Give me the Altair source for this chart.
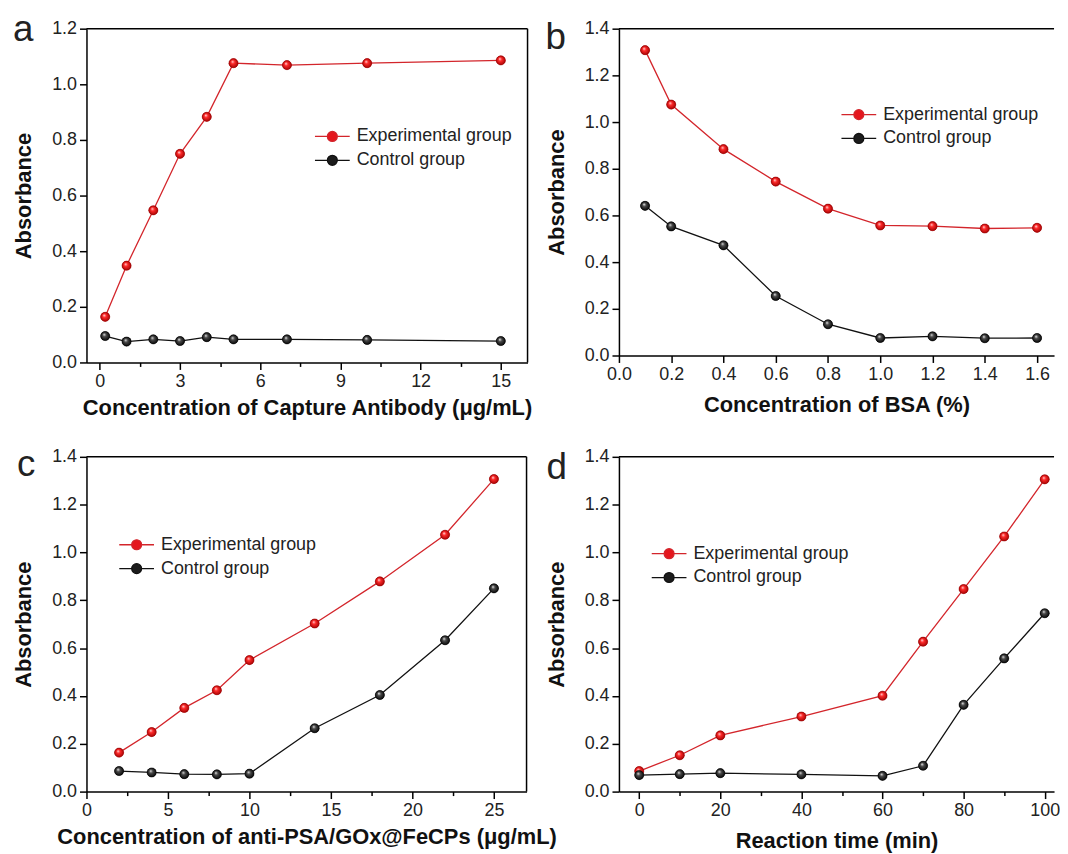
import altair as alt
import pandas as pd

series_names = ["Experimental group", "Control group"]

# panel a
a_x = [0.2, 1, 2, 3, 4, 5, 7, 10, 15]
a_exp = [0.164, 0.348, 0.547, 0.75, 0.883, 1.076, 1.069, 1.076, 1.086]
a_ctl = [0.095, 0.075, 0.083, 0.077, 0.091, 0.083, 0.083, 0.081, 0.077]
a_xticks = [0, 1.5, 3, 4.5, 6, 7.5, 9, 10.5, 12, 13.5, 15]

# panel b
b_x = [0.1, 0.2, 0.4, 0.6, 0.8, 1.0, 1.2, 1.4, 1.6]
b_exp = [1.308, 1.075, 0.884, 0.745, 0.629, 0.557, 0.554, 0.544, 0.547]
b_ctl = [0.641, 0.553, 0.472, 0.255, 0.134, 0.075, 0.082, 0.074, 0.075]
b_xticks = [0, 0.1, 0.2, 0.3, 0.4, 0.5, 0.6, 0.7, 0.8, 0.9, 1.0, 1.1, 1.2, 1.3, 1.4, 1.5, 1.6]

# panel c
c_x = [2, 4, 6, 8, 10, 14, 18, 22, 25]
c_exp = [0.163, 0.249, 0.35, 0.424, 0.55, 0.703, 0.879, 1.074, 1.307]
c_ctl = [0.086, 0.08, 0.073, 0.072, 0.075, 0.265, 0.404, 0.633, 0.85]
c_xticks = [0, 2.5, 5, 7.5, 10, 12.5, 15, 17.5, 20, 22.5, 25]

# panel d
d_x = [0, 10, 20, 40, 60, 70, 80, 90, 100]
d_exp = [0.086, 0.152, 0.235, 0.314, 0.401, 0.627, 0.847, 1.067, 1.306]
d_ctl = [0.069, 0.073, 0.077, 0.072, 0.066, 0.108, 0.363, 0.557, 0.746]
d_xticks = [0, 10, 20, 30, 40, 50, 60, 70, 80, 90, 100]

y12_ticks = [0, 0.1, 0.2, 0.3, 0.4, 0.5, 0.6, 0.7, 0.8, 0.9, 1.0, 1.1, 1.2]
y14_ticks = [0, 0.1, 0.2, 0.3, 0.4, 0.5, 0.6, 0.7, 0.8, 0.9, 1.0, 1.1, 1.2, 1.3, 1.4]

FONT = "Liberation Sans"
LINE_COLORS = ["#d3252b", "#111111"]
FILL_COLORS = ["#e5161d", "#1c1c1c"]

red_grad = alt.RadialGradient(
    gradient="radial",
    stops=[alt.GradientStop(offset=0, color="#ffe8e8"),
           alt.GradientStop(offset=0.35, color="#ff2a2a"),
           alt.GradientStop(offset=1, color="#9e0000")],
    x1=0.38, y1=0.32, r1=0, x2=0.5, y2=0.5, r2=0.55)
black_grad = alt.RadialGradient(
    gradient="radial",
    stops=[alt.GradientStop(offset=0, color="#f4f4f4"),
           alt.GradientStop(offset=0.35, color="#4a4a4a"),
           alt.GradientStop(offset=1, color="#000000")],
    x1=0.38, y1=0.32, r1=0, x2=0.5, y2=0.5, r2=0.55)

SYMBOL = ("M-2,0L-0.57,0M0.57,0L2,0"
          "M-0.57,0A0.57,0.57,0,1,0,0.57,0A0.57,0.57,0,1,0,-0.57,0Z")


def make_legend(lx, ly):
    return alt.Legend(orient="none", legendX=lx, legendY=ly, title=None,
                      symbolType=SYMBOL, symbolSize=306, symbolStrokeWidth=1.3,
                      labelFont=FONT, labelFontSize=18, labelColor="#222222",
                      labelOffset=15, rowPadding=5, padding=0)


def panel(letter, xs, exp, ctl, xtitle, xdomain, xticks, xmajor, xfmt,
          ymax, yticks, w, h, legend_xy, letter_xy, right_frame,
          x_title_pad):
    n = len(xs)
    df = pd.DataFrame({
        "x": list(xs) + list(xs),
        "y": list(exp) + list(ctl),
        "series": [series_names[0]] * n + [series_names[1]] * n,
        "order": list(range(n)) * 2,
    })
    ymajor = "abs(round(datum.value*10) % 2) < 0.5"
    xaxis = alt.Axis(values=xticks, title=xtitle, format=xfmt,
                     labelExpr=f"({xmajor}) ? datum.label : ''",
                     tickSize={"condition": {"test": f"!({xmajor})", "value": 4}, "value": 7},
                     labelFlush=False, labelOverlap=False, labelPadding=3,
                     titlePadding=x_title_pad, grid=False)
    yaxis = alt.Axis(values=yticks, title="Absorbance", format=".1f",
                     labelExpr=f"({ymajor}) ? datum.label : ''",
                     tickSize={"condition": {"test": f"!({ymajor})", "value": 4}, "value": 7},
                     labelFlush=False, labelOverlap=False, labelPadding=3,
                     titlePadding=16, grid=False)
    X = alt.X("x:Q", scale=alt.Scale(domain=xdomain, nice=False, zero=False), axis=xaxis)
    Y = alt.Y("y:Q", scale=alt.Scale(domain=[0, ymax], nice=False), axis=yaxis)
    lx, ly = legend_xy
    base = alt.Chart(df)
    line = base.mark_line(strokeWidth=1.3).encode(
        x=X, y=Y, order="order:Q",
        stroke=alt.Stroke("series:N", sort=series_names,
                          scale=alt.Scale(domain=series_names, range=LINE_COLORS),
                          legend=make_legend(lx, ly)))
    pts = base.mark_point(filled=True, size=85, opacity=1).encode(
        x="x:Q", y="y:Q",
        fill=alt.Fill("series:N", sort=series_names,
                      scale=alt.Scale(domain=series_names, range=FILL_COLORS),
                      legend=make_legend(lx, ly)))
    red_pts = base.transform_filter(alt.datum.series == series_names[0]).mark_point(
        filled=True, size=85, opacity=1, fill=red_grad, stroke="#8a0000",
        strokeWidth=0.5).encode(x="x:Q", y="y:Q")
    blk_pts = base.transform_filter(alt.datum.series == series_names[1]).mark_point(
        filled=True, size=85, opacity=1, fill=black_grad, stroke="#000000",
        strokeWidth=0.5).encode(x="x:Q", y="y:Q")
    frame_df = pd.DataFrame({"k": [0]})
    top = alt.Chart(frame_df).mark_rule(color="black", strokeWidth=1.5).encode(
        y=alt.datum(ymax))
    layers = [line, pts, red_pts, blk_pts, top]
    if right_frame:
        right = alt.Chart(frame_df).mark_rule(color="black", strokeWidth=1.5).encode(
            x=alt.datum(xdomain[1]))
        layers.append(right)
    tx, ty = letter_xy
    lab = alt.Chart(pd.DataFrame({"t": [letter]})).mark_text(
        font=FONT, fontSize=37, align="left", baseline="alphabetic", color="#222222"
    ).encode(x=alt.value(tx), y=alt.value(ty), text="t:N")
    layers.append(lab)
    return alt.layer(*layers).properties(width=w, height=h)


pa = panel("a", a_x, a_exp, a_ctl, "Concentration of Capture Antibody (\u03bcg/mL)",
           [-0.5, 16], a_xticks, "abs(datum.value % 3) < 0.001", "d",
           1.2, y12_ticks, 444, 336, (238, 99), (-74, 12), True, 7)
pb = panel("b", b_x, b_exp, b_ctl, "Concentration of BSA (%)",
           [0, 1.665], b_xticks, "abs(round(datum.value*10) % 2) < 0.5", ".1f",
           1.4, y14_ticks, 438, 329, (232, 77), (-74, 20), False, 11)
pc = panel("c", c_x, c_exp, c_ctl, "Concentration of anti-PSA/GOx@FeCPs (\u03bcg/mL)",
           [0, 27], c_xticks, "abs(datum.value % 5) < 0.001", "d",
           1.4, y14_ticks, 443, 337, (41, 79), (-70, 19), True, 7)
pd_ = panel("d", d_x, d_exp, d_ctl, "Reaction time (min)",
            [-5, 102.3], d_xticks, "abs(datum.value % 20) < 0.001", "d",
            1.4, y14_ticks, 438, 337, (41, 88), (-73, 22), False, 11)

chart = alt.concat(
    pa, pb, pc, pd_, columns=2, spacing={"row": 95, "column": 92}, bounds="flush"
).resolve_scale(
    x="independent", y="independent", stroke="independent", fill="independent"
).resolve_legend(
    stroke="independent", fill="independent"
).properties(
    padding={"left": 4, "top": 0, "right": 0, "bottom": 0},
    background="white",
).configure_view(
    stroke=None
).configure_axis(
    labelFont=FONT, labelFontSize=18, labelColor="#222222",
    titleFont=FONT, titleFontSize=22, titleFontWeight="bold", titleColor="#111111",
    domainColor="#000000", domainWidth=1.5, tickColor="#000000", tickWidth=1.5,
)

chart.save("out.html", embed_options={"renderer": "svg", "actions": False})
